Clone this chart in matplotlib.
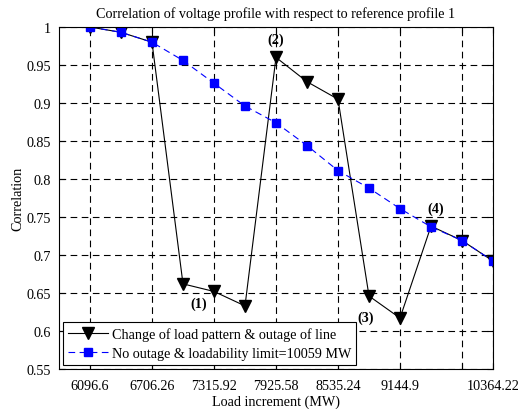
import matplotlib
matplotlib.use('Agg')
import matplotlib.pyplot as plt

plt.rcParams['font.family'] = ['Liberation Serif', 'DejaVu Serif']

# load steps (MW), one point every 304.83 MW
loadMW = [6096.6, 6401.43, 6706.26, 7011.09, 7315.92, 7620.75, 7925.58,
          8230.41, 8535.24, 8840.07, 9144.9, 9449.73, 9754.56, 10059.39]

corrOutage = [1.0, 0.993, 0.980, 0.662, 0.652, 0.633, 0.960,
              0.928, 0.905, 0.646, 0.617, 0.738, 0.719, 0.692]
corrNoOutage = [1.0, 0.993, 0.980, 0.956, 0.926, 0.896, 0.874,
                0.844, 0.811, 0.788, 0.761, 0.737, 0.719, 0.692]

tickPos = [6096.6, 6706.26, 7315.92, 7925.58, 8535.24, 9144.9, 9754.56, 10059.39]
tickLab = ['6096.6', '6706.26', '7315.92', '7925.58', '8535.24', '9144.9', '', '10364.22']
yTicks = [0.55, 0.6, 0.65, 0.7, 0.75, 0.8, 0.85, 0.9, 0.95, 1.0]
yLab = ['0.55', '0.6', '0.65', '0.7', '0.75', '0.8', '0.85', '0.9', '0.95', '1']

# event labels: text, x, y
events = [('(1)', 7163.5, 0.636), ('(2)', 7925.58, 0.984),
          ('(3)', 8810.0, 0.618), ('(4)', 9500.0, 0.762)]

fs = 10.2

fig = plt.figure(figsize=(5.21, 4.10), dpi=100)
ax = fig.add_axes([0.1132, 0.0976, 0.8331, 0.8341])

ax.plot(loadMW, corrOutage, color='k', lw=0.8, marker='v', markersize=8,
        markerfacecolor='k', markeredgecolor='k',
        label='Change of load pattern & outage of line')
ax.plot(loadMW, corrNoOutage, color='b', lw=0.8, ls=(0, (6, 4)), marker='s',
        markersize=5.5, markerfacecolor='b', markeredgecolor='b',
        label='No outage & loadability limit=10059 MW')

for txt, x, y in events:
    ax.text(x, y, txt, ha='center', va='center', fontsize=fs, fontweight='bold')

ax.set_xlim(5791.77, 10059.39)
ax.set_ylim(0.55, 1.0)
ax.set_xticks(tickPos)
ax.set_xticklabels(tickLab)
ax.set_yticks(yTicks)
ax.set_yticklabels(yLab)
ax.tick_params(direction='in', length=4, labelsize=fs, top=True, right=True)
ax.tick_params(axis='x', pad=7)
ax.tick_params(axis='y', pad=6)
ax.grid(True, color='k', ls=(0, (6, 4)), lw=0.8)
for sp in ax.spines.values():
    sp.set_linewidth(0.8)

ax.set_title('Correlation of voltage profile with respect to reference profile 1',
             fontsize=fs, pad=7)
ax.set_xlabel('Load increment (MW)', fontsize=fs, labelpad=2)
ax.set_ylabel('Correlation', fontsize=fs, labelpad=1)

leg = ax.legend(loc='lower left', fontsize=fs, fancybox=False, framealpha=1,
                edgecolor='k', borderaxespad=0.3, handlelength=2.8,
                handletextpad=0.3, labelspacing=0.4, borderpad=0.35)
leg.get_frame().set_linewidth(0.8)

fig.savefig('out.png', dpi=100)
